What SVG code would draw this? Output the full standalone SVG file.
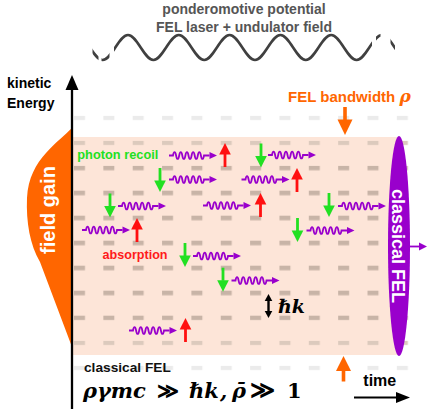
<svg xmlns="http://www.w3.org/2000/svg" width="438" height="409" viewBox="0 0 438 409">
<style>
.sans{font-family:"Liberation Sans",Arial,sans-serif;font-weight:bold}
.math{font-family:"DejaVu Serif","Liberation Serif",serif;font-style:italic;font-weight:bold}
.up{font-style:normal}
.pw{stroke:#9900cc;fill:none;stroke-width:1.8}
</style>
<defs>
<pattern id="dL" x="74" y="115.7" width="29.35" height="25" patternUnits="userSpaceOnUse"><rect width="11" height="4.6" fill="#ebebeb"/></pattern>
<pattern id="dM" x="74" y="115.7" width="29.35" height="25" patternUnits="userSpaceOnUse"><rect width="11" height="4.6" fill="#dccabd"/></pattern>
<pattern id="dD" x="74" y="115.7" width="29.35" height="25" patternUnits="userSpaceOnUse"><rect width="11" height="4.6" fill="#c8b4a7"/></pattern>
<path id="wave" fill="none" stroke="#404040" stroke-width="2.6" d="M77.2,35 c9.14,0 16.26,25 25.4,25 s16.26,-25 25.4,-25 s16.26,25 25.4,25 s16.26,-25 25.4,-25 s16.26,25 25.4,25 s16.26,-25 25.4,-25 s16.26,25 25.4,25 s16.26,-25 25.4,-25 s16.26,25 25.4,25 s16.26,-25 25.4,-25 s16.26,25 25.4,25 s16.26,-25 25.4,-25 s16.26,25 25.4,25"/>
<clipPath id="cs"><rect x="114" y="0" width="258" height="80"/></clipPath>
<clipPath id="cd"><rect x="92.5" y="0" width="6" height="80"/><rect x="101.5" y="0" width="8" height="80"/><rect x="376" y="0" width="4.5" height="80"/><rect x="390.5" y="0" width="4.5" height="80"/></clipPath>
<g id="wv"><path class="pw" d="M0,0 h4 c0.8,-4.6 2.3,-4.6 3.1,0 s2.3,4.6 3.1,0 s2.3,-4.6 3.1,0 s2.3,4.6 3.1,0 s2.3,-4.6 3.1,0 s2.3,4.6 3.1,0 s2.3,-4.6 3.1,0 s2.3,4.6 3.1,0 s2.3,-4.6 3.1,0 s2.3,4.6 3.1,0 h5.5"/><polygon points="40.5,-3.6 48,0 40.5,3.6" fill="#9900cc"/></g>
<g id="ru" fill="#ff1010"><polygon points="0,0 5.8,11.5 -5.8,11.5"/><rect x="-1.4" y="11" width="2.8" height="13"/></g>
<g id="gd" fill="#22e022"><polygon points="0,0 5.8,-11.5 -5.8,-11.5"/><rect x="-1.4" y="-24" width="2.8" height="13"/></g>
</defs>

<g id="potential">
<text class="sans" x="244" y="13.5" text-anchor="middle" font-size="14" fill="#555">ponderomotive potential</text>
<text class="sans" x="244" y="31.7" text-anchor="middle" font-size="14" fill="#555">FEL laser + undulator field</text>
<use href="#wave" clip-path="url(#cs)"/>
<use href="#wave" clip-path="url(#cd)"/>
</g>

<g id="band">
<rect x="73" y="137" width="327" height="218" fill="#fde5d8"/>
<rect x="74" y="115.7" width="335" height="4.6" fill="url(#dL)"/>
<rect x="74" y="365.7" width="335" height="4.6" fill="url(#dL)"/>
<rect x="74" y="140.7" width="335" height="4.6" fill="url(#dM)"/>
<rect x="74" y="340.7" width="335" height="4.6" fill="url(#dM)"/>
<rect x="74" y="165.7" width="335" height="154.6" fill="url(#dD)"/>
</g>

<g id="field-gain">
<path d="M72,128 C66,134 56,142 46,153 C36,164 28,178 27,198 C26,222 30,245 40,262 L72,347 Z" fill="#ff6600"/>
<text class="sans" transform="translate(55,210) rotate(-90)" text-anchor="middle" font-size="20" fill="#fff">field gain</text>
</g>

<g id="axis">
<line x1="72" y1="88" x2="72" y2="409" stroke="#000" stroke-width="2.3"/>
<polygon points="72,75 78.5,90 65.5,90" fill="#000"/>
<text class="sans" x="7" y="87.5" font-size="14" fill="#000">kinetic</text>
<text class="sans" x="7" y="107.5" font-size="14" fill="#000">Energy</text>
</g>

<g id="time-axis">
<line x1="354" y1="397.5" x2="398" y2="397.5" stroke="#000" stroke-width="2"/>
<polygon points="410,397.5 396,392 396,403" fill="#000"/>
<text class="sans" x="363.3" y="385.7" font-size="16" fill="#000">time</text>
</g>

<g id="bandwidth">
<text class="sans" x="288" y="101.7" font-size="15" fill="#ff6600">FEL bandwidth <tspan class="math" font-size="17">ρ</tspan></text>
<rect x="343.2" y="107" width="3.6" height="13" fill="#ff6600"/>
<polygon points="345,135 337.5,119.5 352.5,119.5" fill="#ff6600"/>
<polygon points="343.5,356 336,371 351,371" fill="#ff6600"/>
<rect x="341.7" y="370" width="3.6" height="11.5" fill="#ff6600"/>
</g>

<g id="classical-fel">
<ellipse cx="399" cy="246" rx="11" ry="110" fill="#9900cc"/>
<text class="sans" transform="translate(392,246) rotate(90)" text-anchor="middle" font-size="18" fill="#fff">classical FEL</text>
<line x1="409" y1="246.5" x2="420" y2="246.5" stroke="#9900cc" stroke-width="1.8"/>
<polygon points="427,246.5 419,242.5 419,250.5" fill="#9900cc"/>
</g>

<g id="photons">
<use href="#wv" x="169" y="155.5"/>
<use href="#wv" x="169" y="179.5"/>
<use href="#wv" x="118" y="206"/>
<use href="#wv" x="82" y="230"/>
<use href="#wv" x="193" y="256"/>
<use href="#wv" x="268" y="155"/>
<use href="#wv" x="241.5" y="179.5"/>
<use href="#wv" x="203" y="205.5"/>
<use href="#wv" x="338" y="206"/>
<use href="#wv" x="306.5" y="230.5"/>
<use href="#wv" x="231.5" y="280.5"/>
<use href="#wv" x="129" y="330.5"/>
</g>

<g id="recoil">
<text class="sans" x="77.3" y="159" font-size="12.8" fill="#22e022">photon recoil</text>
<use href="#gd" x="160" y="192"/>
<use href="#gd" x="110" y="217.5"/>
<use href="#gd" x="185" y="267"/>
<use href="#gd" x="261" y="167.5"/>
<use href="#gd" x="297.5" y="242"/>
<use href="#gd" x="329" y="217"/>
<use href="#gd" x="223" y="291.7"/>
</g>

<g id="absorption">
<text class="sans" x="102.5" y="258.5" font-size="12.6" fill="#ff1a1a">absorption</text>
<use href="#ru" x="137" y="218"/>
<use href="#ru" x="225" y="143"/>
<use href="#ru" x="297" y="168"/>
<use href="#ru" x="260.5" y="193"/>
<use href="#ru" x="185.5" y="318"/>
</g>

<g id="hbar-k">
<line x1="268.5" y1="299" x2="268.5" y2="313" stroke="#000" stroke-width="2.4"/>
<polygon points="268.5,294 272.3,301 264.7,301" fill="#000"/>
<polygon points="268.5,318 272.3,311 264.7,311" fill="#000"/>
<text class="math" x="278" y="313" font-size="19" fill="#000">ℏk</text>
</g>

<g id="condition">
<text class="sans" x="84" y="371.7" font-size="13.7" fill="#111">classical FEL</text>
<text class="math" y="398" font-size="21" fill="#000"><tspan x="83">ργmc</tspan> <tspan x="157" class="up">≫</tspan> <tspan x="189">ℏk</tspan><tspan x="220">,</tspan> <tspan x="232">ρ̄</tspan> <tspan x="250" class="up" font-size="24">≫</tspan> <tspan x="287" class="up">1</tspan></text>
</g>
</svg>
